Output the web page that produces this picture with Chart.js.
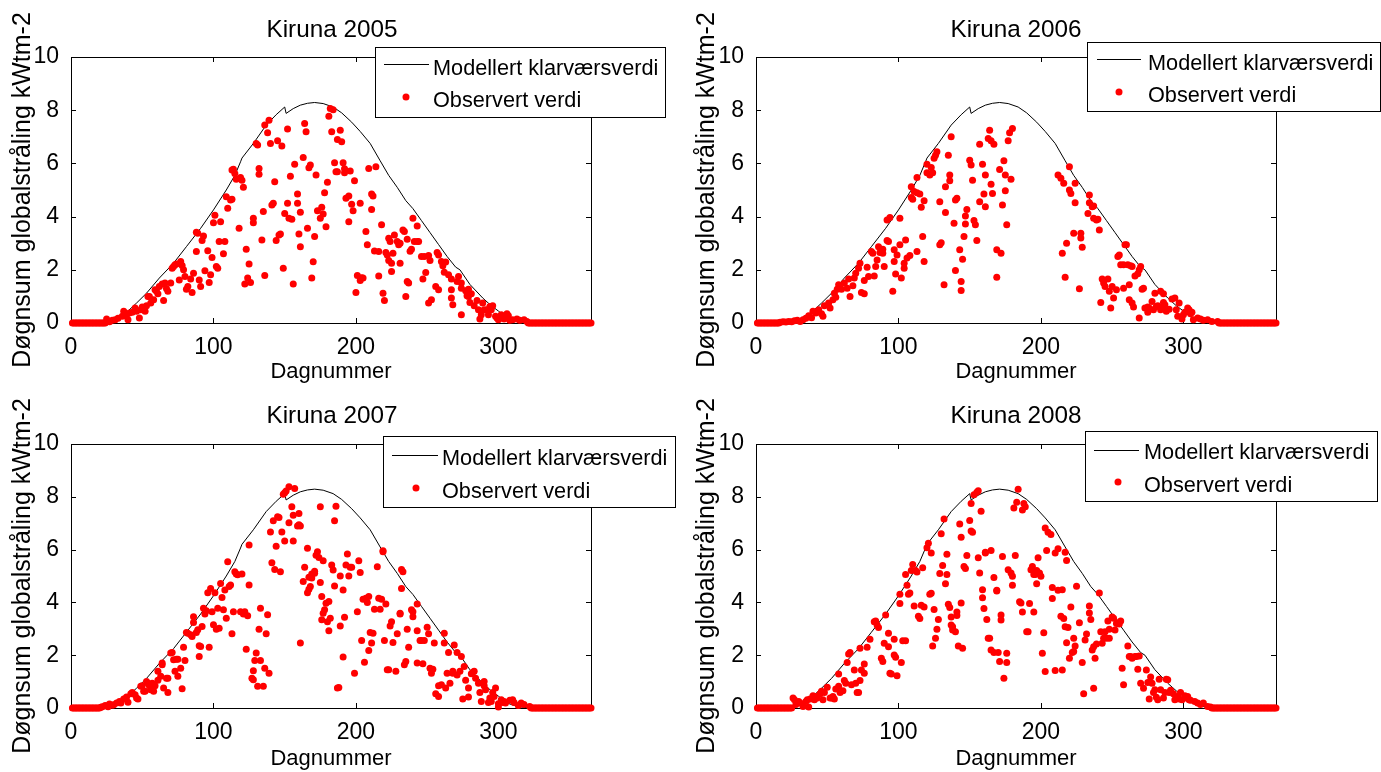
<!DOCTYPE html>
<html>
<head>
<meta charset="utf-8">
<title>Kiruna globalstråling</title>
<script src="https://cdn.jsdelivr.net/npm/chart.js"></script>
<style>
  body { margin:0; background:#fff; }
  canvas { position:absolute; }
</style>
</head>
<body>
<canvas id="p2005" width="690" height="386" style="left:0;top:0"></canvas>
<canvas id="p2006" width="691" height="386" style="left:690px;top:0"></canvas>
<canvas id="p2007" width="690" height="386" style="left:0;top:386px"></canvas>
<canvas id="p2008" width="691" height="386" style="left:690px;top:386px"></canvas>
<script>
// modelled clear-sky daily sum (same curve in every panel)
const modelDays = [0,10,18,24,30,35,40,46,53,62,72,81,91,100,109,115,119,120,128,137,144,150,151,156,161,166,171,177,184,190,197,203,210,217,223,229,235,240,246,252,258,264,270,273,280,289,295,300,306,313,320,328,365];
const modelVals = [0,0,0.01,0.04,0.14,0.27,0.45,0.75,1.12,1.69,2.25,2.87,3.56,4.25,5.0,5.55,6.06,6.2,6.75,7.44,7.83,8.12,7.88,8.06,8.19,8.26,8.29,8.25,8.12,7.9,7.55,7.2,6.75,6.1,5.55,5.1,4.6,4.3,3.85,3.4,2.95,2.5,2.1,2.0,1.45,0.94,0.65,0.45,0.19,0.06,0.01,0,0];

const xTicks = [0,100,200,300];
const yTicks = [0,2,4,6,8,10];
const legendLabels = ['Modellert klarværsverdi', 'Observert verdi'];

// days where the observed value sits on zero (polar night)
const zeros2005 = [1,2,3,4,5,6,7,8,9,10,11,12,13,14,15,16,17,18,19,20,21,22,23,24,321,322,323,324,325,326,327,328,329,330,331,332,333,334,335,336,337,338,339,340,341,342,343,344,345,346,347,348,349,350,351,352,353,354,355,356,357,358,359,360,361,362,363,364,365];
const zeros2006 = [1,2,3,4,5,6,7,8,9,10,11,12,13,14,15,16,325,326,327,328,329,330,331,332,333,334,335,336,337,338,339,340,341,342,343,344,345,346,347,348,349,350,351,352,353,354,355,356,357,358,359,360,361,362,363,364,365];
const zeros2007 = [1,2,3,4,5,6,7,8,9,10,11,12,13,14,15,16,17,18,19,20,323,324,325,326,327,328,329,330,331,332,333,334,335,336,337,338,339,340,341,342,343,344,345,346,347,348,349,350,351,352,353,354,355,356,357,358,359,360,361,362,363,364,365];
const zeros2008 = [1,2,3,4,5,6,7,8,9,10,11,12,13,14,15,16,17,18,19,20,21,22,23,24,25,320,321,322,323,324,325,326,327,328,329,330,331,332,333,334,335,336,337,338,339,340,341,342,343,344,345,346,347,348,349,350,351,352,353,354,355,356,357,358,359,360,361,362,363,364,365];

// observed daily sums [day, kWh m-2]
const obs2005 = [[25,0.15],[27,0.05],[29,0.1],[31,0.12],[33,0.18],[36,0.25],[37,0.44],[39,0.3],[40,0.12],[41,0.38],[43,0.4],[45,0.56],[46,0.44],[48,0.19],[49,0.5],[50,0.6],[52,0.44],[53,0.65],[54,1.0],[55,1.0],[56,0.75],[58,0.87],[59,1.25],[60,1.19],[61,1.1],[62,1.37],[64,1.47],[65,0.85],[66,1.5],[67,1.3],[68,1.19],[70,1.5],[71,2.06],[72,2.12],[73,2.19],[74,2.22],[76,1.62],[77,2.31],[78,2.16],[79,2.0],[80,1.75],[81,1.27],[82,1.37],[84,1.65],[85,1.15],[86,1.87],[88,2.69],[88,3.41],[89,3.37],[90,1.62],[91,1.37],[92,3.1],[93,3.27],[94,1.96],[96,2.72],[97,1.52],[98,1.81],[99,2.46],[100,3.77],[101,4.05],[102,2.12],[103,2.06],[104,3.06],[105,3.81],[107,2.6],[108,3.06],[109,4.75],[110,4.31],[112,4.62],[113,4.65],[113,5.75],[114,5.78],[115,5.62],[116,5.4],[118,3.56],[119,5.47],[120,5.37],[121,5.1],[122,1.47],[123,2.77],[124,1.69],[125,2.22],[126,1.52],[128,3.94],[128,3.77],[130,6.75],[131,6.69],[132,5.59],[132,5.81],[134,3.12],[135,4.19],[136,1.79],[136,7.44],[138,7.15],[139,7.62],[140,6.75],[141,4.44],[142,4.5],[143,5.31],[144,3.1],[145,6.85],[146,3.31],[147,3.35],[148,6.65],[149,2.06],[150,4.12],[152,7.29],[152,4.5],[153,3.94],[154,5.52],[155,3.9],[156,1.47],[157,5.97],[159,4.5],[159,4.85],[160,3.35],[161,4.16],[161,2.87],[163,6.22],[164,7.5],[165,7.19],[166,3.56],[167,5.84],[168,5.94],[169,1.69],[170,2.3],[171,3.25],[172,5.56],[173,4.22],[175,3.94],[176,4.35],[177,4.1],[178,4.9],[179,3.62],[180,5.29],[181,7.77],[182,8.06],[184,8.02],[183,7.19],[185,6.02],[186,5.69],[187,6.9],[187,5.69],[189,7.25],[190,6.81],[191,6.02],[192,5.65],[192,5.8],[193,4.69],[195,4.77],[195,3.81],[196,5.71],[197,4.46],[198,4.22],[199,5.35],[200,1.15],[201,1.79],[203,4.5],[203,1.6],[204,1.7],[205,1.69],[207,3.44],[208,2.94],[209,5.81],[211,4.85],[211,4.27],[212,4.77],[213,2.71],[214,5.87],[216,1.77],[216,2.69],[218,3.69],[219,1.12],[220,0.85],[221,2.65],[222,2.56],[223,3.19],[223,2.35],[224,3.06],[225,1.94],[225,2.25],[226,2.62],[227,3.31],[229,3.06],[230,2.94],[231,3.0],[231,2.25],[233,3.5],[234,3.44],[235,1.0],[236,3.15],[236,1.56],[237,1.5],[238,2.7],[239,2.77],[240,3.94],[241,3.06],[243,3.65],[243,3.06],[244,3.06],[246,2.5],[247,1.65],[248,2.5],[249,1.9],[251,2.54],[251,0.75],[252,2.35],[253,0.87],[256,1.37],[257,2.65],[258,2.56],[258,1.25],[260,2.31],[261,2.15],[262,1.91],[263,2.29],[265,1.81],[267,1.65],[267,1.25],[267,0.94],[268,0.69],[271,1.56],[272,1.75],[274,1.31],[274,1.5],[274,0.31],[277,1.21],[278,1.02],[279,1.0],[279,1.27],[280,0.77],[281,1.1],[283,0.65],[285,0.85],[286,0.5],[287,0.15],[288,0.31],[289,0.75],[290,0.5],[292,0.5],[293,0.31],[294,0.62],[295,0.5],[296,0.65],[298,0.25],[299,0.19],[300,0.12],[301,0.19],[302,0.31],[304,0.15],[305,0.25],[306,0.35],[307,0.27],[308,0.1],[310,0.12],[313,0.15],[315,0.1],[318,0.12],[320,0.06]];

const obs2006 = [[17,0.03],[19,0.05],[21,0.04],[23,0.06],[25,0.05],[27,0.08],[29,0.1],[31,0.06],[33,0.12],[35,0.18],[37,0.27],[39,0.2],[40,0.44],[42,0.38],[44,0.5],[46,0.35],[47,0.25],[48,0.65],[51,0.75],[52,0.56],[54,0.87],[55,1.12],[56,0.97],[57,1.27],[58,1.44],[60,1.27],[62,1.5],[64,1.31],[65,1.65],[66,1.0],[68,1.4],[69,1.69],[70,1.87],[72,2.06],[73,2.25],[74,1.15],[76,1.1],[76,1.6],[78,2.1],[79,1.75],[81,2.69],[82,2.62],[83,1.77],[84,2.12],[85,2.37],[86,2.87],[87,2.65],[89,2.77],[89,2.62],[90,2.12],[92,3.1],[93,3.06],[92,3.87],[94,3.97],[96,1.19],[97,2.31],[97,2.75],[98,1.84],[99,2.56],[101,3.94],[101,2.94],[102,1.69],[104,2.06],[104,2.25],[105,3.12],[106,2.44],[108,2.54],[109,4.72],[109,5.12],[110,4.65],[111,4.94],[113,2.69],[113,4.9],[113,5.47],[115,4.85],[116,4.35],[117,3.25],[118,2.31],[118,4.6],[120,5.97],[120,5.65],[122,5.56],[123,5.85],[124,5.65],[125,6.19],[126,6.31],[127,6.44],[129,4.56],[129,2.94],[130,3.02],[132,1.44],[133,5.12],[133,4.15],[135,6.31],[136,5.56],[136,5.35],[137,7.0],[139,3.75],[140,1.97],[140,4.62],[141,4.69],[143,2.75],[144,1.56],[144,1.22],[145,2.4],[146,3.25],[147,3.72],[147,4.02],[148,4.27],[150,6.12],[151,5.94],[152,5.37],[153,3.85],[154,3.69],[155,3.1],[157,6.72],[157,4.56],[159,5.97],[160,4.85],[161,5.56],[161,4.37],[163,6.94],[164,7.25],[165,6.85],[165,5.22],[166,4.87],[167,6.72],[169,1.72],[169,2.75],[171,5.77],[172,2.62],[173,4.44],[174,6.1],[175,5.56],[175,4.97],[176,3.69],[177,6.85],[178,7.15],[179,5.4],[180,7.31],[212,5.56],[214,5.44],[215,2.62],[216,5.25],[217,1.72],[218,3.0],[220,5.0],[220,5.87],[221,4.87],[223,3.37],[224,4.52],[224,5.25],[227,1.29],[228,3.37],[228,3.2],[229,2.85],[233,4.12],[234,4.81],[234,4.52],[236,4.37],[237,4.4],[237,3.94],[239,3.87],[240,3.9],[241,3.5],[242,0.77],[243,1.65],[244,1.5],[245,1.37],[247,1.65],[248,1.19],[249,0.56],[250,1.37],[251,0.94],[253,1.25],[254,2.5],[255,2.56],[256,2.19],[258,2.19],[258,1.31],[259,2.94],[260,2.94],[261,2.19],[262,0.87],[262,1.44],[263,2.15],[264,2.12],[264,0.75],[265,0.6],[266,1.77],[268,1.85],[269,0.19],[269,2.0],[270,2.12],[271,1.27],[272,1.31],[273,0.56],[275,0.6],[275,0.4],[276,0.56],[278,0.81],[279,0.5],[280,1.12],[281,0.62],[282,0.65],[284,0.5],[284,1.19],[285,0.56],[286,1.1],[286,0.77],[287,0.69],[288,0.44],[290,0.52],[292,0.9],[294,0.94],[295,0.5],[296,0.25],[297,0.75],[299,0.15],[300,0.31],[301,0.4],[303,0.56],[304,0.5],[305,0.35],[306,0.4],[307,0.12],[310,0.19],[312,0.15],[314,0.1],[317,0.12],[320,0.06],[324,0.06]];

const obs2007 = [[21,0.03],[22,0.05],[24,0.09],[26,0.05],[27,0.15],[29,0.1],[30,0.12],[32,0.19],[34,0.25],[35,0.19],[37,0.34],[39,0.42],[40,0.22],[42,0.54],[43,0.59],[45,0.5],[46,0.38],[47,0.34],[49,0.82],[50,0.84],[51,0.63],[52,0.63],[53,1.0],[54,0.94],[55,0.84],[56,0.69],[57,0.94],[58,0.63],[59,0.84],[61,1.39],[61,1.05],[63,1.2],[64,1.64],[64,1.7],[65,0.76],[67,1.13],[68,0.59],[68,1.13],[70,2.08],[71,2.1],[72,1.83],[73,1.39],[74,1.85],[75,1.85],[75,1.2],[77,1.51],[78,0.73],[79,2.3],[80,1.8],[81,2.86],[82,2.83],[84,2.77],[85,2.71],[86,3.46],[86,3.24],[88,2.86],[89,2.96],[90,1.95],[90,2.36],[91,2.33],[92,3.09],[93,3.78],[94,3.56],[95,3.68],[96,4.37],[97,2.3],[98,4.53],[99,3.65],[100,3.15],[101,4.37],[102,2.98],[103,3.78],[104,3.02],[105,4.72],[106,4.19],[107,3.72],[108,4.47],[109,3.4],[110,5.54],[111,4.6],[112,4.66],[113,2.81],[114,3.65],[115,5.16],[116,5.08],[117,5.05],[119,3.65],[120,5.08],[121,3.56],[122,3.65],[123,2.23],[124,3.49],[125,4.66],[125,6.17],[127,1.13],[128,1.41],[128,1.07],[129,1.8],[130,2.08],[131,0.82],[132,2.98],[133,3.78],[133,1.8],[135,0.82],[136,1.51],[137,2.81],[138,3.53],[139,1.32],[140,6.67],[141,5.5],[142,7.09],[143,5.25],[144,6.13],[145,7.24],[146,7.22],[147,5.16],[148,6.67],[149,8.1],[150,6.33],[150,8.15],[151,8.22],[153,8.38],[153,7.02],[155,7.62],[156,7.3],[156,6.33],[157,8.31],[159,6.89],[160,7.37],[160,6.94],[161,6.89],[161,2.46],[163,4.79],[164,5.33],[166,6.05],[166,4.37],[167,4.95],[167,4.5],[168,4.6],[169,4.92],[169,5.08],[171,5.1],[171,5.18],[172,5.79],[173,5.92],[174,5.7],[175,7.62],[175,4.75],[176,3.34],[176,4.22],[177,5.58],[177,3.59],[178,3.72],[179,3.97],[180,3.27],[181,4.03],[181,2.93],[182,3.4],[183,5.42],[184,5.23],[185,4.62],[185,7.09],[186,7.64],[187,0.76],[188,0.78],[189,3.11],[189,5.0],[191,4.47],[191,1.93],[192,3.44],[193,5.42],[194,5.83],[195,5.0],[196,5.33],[197,5.33],[199,1.32],[201,3.65],[202,5.58],[203,5.13],[204,2.56],[205,4.12],[206,1.73],[207,4.16],[208,4.0],[209,4.22],[209,2.18],[210,2.86],[211,2.46],[212,2.83],[213,3.74],[215,5.35],[216,4.16],[217,3.74],[218,4.12],[219,5.96],[219,5.92],[220,2.56],[221,3.94],[222,1.45],[223,1.45],[224,3.11],[225,3.27],[226,2.48],[228,1.39],[229,2.81],[231,3.59],[231,3.56],[232,5.25],[232,4.53],[233,5.16],[234,1.64],[235,1.76],[236,2.98],[237,2.3],[239,3.72],[240,3.65],[240,3.46],[243,2.93],[243,3.94],[243,1.7],[245,2.56],[246,2.56],[247,1.68],[248,2.56],[250,3.06],[251,2.81],[252,1.51],[253,1.32],[254,1.47],[255,2.46],[256,0.54],[258,0.44],[258,0.84],[260,0.88],[262,2.83],[262,2.46],[263,0.76],[264,1.32],[265,2.1],[266,0.94],[268,1.32],[268,1.39],[269,2.39],[271,2.1],[271,1.25],[273,1.39],[274,1.95],[275,0.34],[276,1.57],[277,1.05],[279,0.76],[279,0.42],[281,1.3],[282,1.35],[283,1.39],[284,1.13],[286,0.94],[287,0.59],[288,0.25],[290,0.84],[290,1.0],[291,0.69],[293,0.21],[294,0.38],[295,0.25],[296,0.59],[297,0.44],[298,0.76],[300,0.04],[300,0.16],[302,0.31],[303,0.21],[304,0.25],[305,0.19],[308,0.29],[310,0.31],[311,0.21],[314,0.09],[316,0.19],[318,0.13],[322,0.06]];

const obs2008 = [[26,0.38],[27,0.31],[28,0.13],[30,0.25],[31,0.19],[33,0.06],[35,0.25],[36,0.31],[37,0.04],[38,0.34],[40,0.46],[41,0.31],[42,0.44],[43,0.38],[45,0.54],[46,0.63],[47,0.31],[48,0.59],[50,0.79],[52,0.38],[53,0.38],[54,0.44],[55,0.34],[56,0.72],[58,1.29],[58,0.82],[59,0.59],[61,0.65],[62,1.04],[63,0.94],[64,1.72],[65,2.05],[66,2.1],[67,0.88],[69,1.44],[70,0.94],[71,0.59],[72,0.59],[73,1.04],[73,2.26],[74,1.44],[76,1.32],[76,1.67],[78,2.3],[80,2.6],[83,3.27],[84,3.3],[85,3.14],[86,3.05],[88,1.88],[89,1.76],[90,2.45],[91,3.52],[93,2.83],[93,2.32],[94,1.32],[95,1.29],[97,2.6],[97,2.01],[98,1.92],[99,1.22],[101,3.96],[101,4.31],[102,1.72],[103,2.55],[105,2.55],[105,5.06],[106,4.65],[107,4.31],[108,4.36],[109,5.21],[110,5.44],[111,3.86],[112,5.21],[113,5.15],[114,3.48],[115,3.39],[116,3.89],[117,5.31],[118,3.83],[120,6.07],[121,6.24],[122,4.31],[123,4.35],[123,5.87],[124,2.35],[125,3.73],[126,2.64],[127,2.98],[128,3.35],[129,5.09],[130,6.6],[131,5.4],[132,7.16],[133,4.71],[134,5.06],[134,5.82],[135,3.93],[136,3.81],[137,3.45],[137,3.14],[138,3.08],[138,2.95],[140,2.89],[141,3.64],[141,3.5],[142,2.35],[143,6.97],[144,6.47],[144,3.98],[145,2.26],[146,5.36],[147,5.28],[148,5.78],[150,7.1],[151,6.7],[151,7.75],[152,6.66],[153,8.08],[155,8.17],[156,8.23],[156,5.69],[157,5.11],[158,7.45],[159,4.18],[159,4.48],[160,3.77],[161,5.9],[161,5.87],[162,3.35],[163,2.64],[164,2.64],[165,2.2],[165,5.97],[167,2.1],[167,4.94],[169,4.43],[169,4.46],[170,2.1],[171,1.76],[172,3.33],[172,3.52],[173,5.74],[174,1.13],[176,2.07],[176,1.72],[177,5.24],[179,5.11],[180,4.99],[180,4.65],[181,7.58],[182,5.78],[183,7.79],[184,8.29],[185,4.02],[186,3.98],[187,7.5],[188,7.75],[189,7.62],[187,3.64],[190,2.89],[191,2.89],[192,3.96],[193,5.24],[194,5.36],[195,3.64],[195,5.06],[196,5.06],[197,4.71],[197,5.21],[198,5.69],[199,5.11],[200,4.99],[201,2.07],[202,2.85],[203,1.38],[203,6.82],[204,5.97],[205,6.66],[207,6.57],[208,4.15],[208,4.56],[210,5.87],[210,1.42],[212,4.46],[212,6.03],[214,3.48],[215,1.44],[215,4.48],[216,3.39],[217,3.08],[217,5.9],[218,2.47],[218,5.59],[219,3.05],[220,1.88],[221,3.83],[222,2.1],[223,2.14],[223,2.64],[224,2.35],[225,4.61],[227,3.23],[229,1.72],[230,0.54],[231,2.58],[232,2.8],[234,3.86],[234,3.6],[235,3.35],[236,2.2],[237,2.32],[237,0.75],[238,1.88],[239,2.42],[241,4.36],[242,2.89],[243,2.45],[244,2.64],[245,2.89],[246,2.64],[247,3.3],[248,2.98],[248,2.64],[250,3.45],[251,3.4],[252,2.95],[253,3.2],[254,3.23],[255,3.18],[256,3.3],[257,1.51],[258,0.88],[261,2.35],[262,1.95],[263,1.95],[264,1.88],[266,1.95],[267,1.95],[268,1.47],[269,1.97],[270,0.94],[272,0.75],[274,1.44],[275,0.97],[276,0.34],[277,1.17],[278,0.94],[279,0.59],[280,0.69],[281,0.41],[282,0.31],[283,1.09],[284,0.69],[286,0.38],[287,0.59],[288,1.09],[289,1.07],[290,0.59],[291,0.67],[293,0.54],[294,0.31],[296,0.44],[297,0.34],[298,0.59],[299,0.31],[301,0.46],[302,0.38],[303,0.44],[304,0.31],[305,0.29],[308,0.25],[310,0.19],[312,0.13],[314,0.19],[317,0.06],[319,0.04]];

const FONT = "'Liberation Sans', Arial, Helvetica, sans-serif";
Chart.defaults.font.family = FONT;
Chart.defaults.color = '#000';

// box, inside tick marks, title and legend drawn the MATLAB way
const matlabAxes = {
  id: 'matlabAxes',
  beforeDatasetsDraw(chart) {
    const { ctx, chartArea: a, scales: { x, y } } = chart;
    ctx.save();
    ctx.strokeStyle = '#000';
    ctx.lineWidth = 1;
    ctx.strokeRect(a.left + 0.5, a.top + 0.5, a.right - a.left, a.bottom - a.top);
    ctx.beginPath();
    xTicks.forEach(v => {
      const px = Math.round(x.getPixelForValue(v)) + 0.5;
      ctx.moveTo(px, a.bottom); ctx.lineTo(px, a.bottom - 5);
      ctx.moveTo(px, a.top); ctx.lineTo(px, a.top + 5);
    });
    yTicks.forEach(v => {
      const py = Math.round(y.getPixelForValue(v)) + 0.5;
      ctx.moveTo(a.left, py); ctx.lineTo(a.left + 5, py);
      ctx.moveTo(a.right, py); ctx.lineTo(a.right - 5, py);
    });
    ctx.stroke();
    ctx.restore();
  },
  afterDraw(chart, args, o) {
    const ctx = chart.ctx;
    const L = o.legend;
    ctx.save();
    ctx.fillStyle = '#000';
    ctx.textAlign = 'center';
    ctx.textBaseline = 'alphabetic';
    ctx.font = '24.3px ' + FONT;
    ctx.fillText(o.title, o.titleX, o.titleY);

    ctx.fillStyle = '#fff';
    ctx.fillRect(L.x, L.y, L.w, L.h);
    ctx.strokeStyle = '#000';
    ctx.lineWidth = 1;
    ctx.strokeRect(L.x + 0.5, L.y + 0.5, L.w, L.h);
    ctx.beginPath();
    ctx.moveTo(L.lx1, L.ly + 0.5); ctx.lineTo(L.lx2, L.ly + 0.5);
    ctx.stroke();
    ctx.fillStyle = '#ff0000';
    ctx.beginPath();
    ctx.arc(L.dx, L.dy, 3.5, 0, Math.PI * 2);
    ctx.fill();
    ctx.fillStyle = '#000';
    ctx.textAlign = 'left';
    ctx.font = '21.7px ' + FONT;
    ctx.fillText(legendLabels[0], L.tx, L.b1);
    ctx.fillText(legendLabels[1], L.tx, L.b2);
    ctx.restore();
  }
};

const panels = [
  { id: 'p2005', title: 'Kiruna 2005', obs: obs2005, zeros: zeros2005,
    top: 57, xh: 63, yw: 71, right: 99, ypad: 8, xpad: 1, titleX: 332, titleY: 37,
    legend: { x: 375, y: 47, w: 290, h: 70, lx1: 384, lx2: 429, ly: 64, dx: 406, dy: 97, tx: 433, b1: 75, b2: 107 } },
  { id: 'p2006', title: 'Kiruna 2006', obs: obs2006, zeros: zeros2006,
    top: 57, xh: 63, yw: 66, right: 105, ypad: 2, xpad: 1, titleX: 326, titleY: 37,
    legend: { x: 397, y: 42, w: 293, h: 69, lx1: 407, lx2: 451, ly: 59, dx: 429, dy: 92, tx: 458, b1: 70, b2: 102 } },
  { id: 'p2007', title: 'Kiruna 2007', obs: obs2007, zeros: zeros2007,
    top: 58, xh: 64, yw: 71, right: 99, ypad: 8, xpad: 0, titleX: 332, titleY: 37,
    legend: { x: 383, y: 50, w: 292, h: 71, lx1: 392, lx2: 438, ly: 69, dx: 416, dy: 102, tx: 442, b1: 79, b2: 112 } },
  { id: 'p2008', title: 'Kiruna 2008', obs: obs2008, zeros: zeros2008,
    top: 58, xh: 64, yw: 66, right: 105, ypad: 2, xpad: 0, titleX: 326, titleY: 37,
    legend: { x: 395, y: 45, w: 292, h: 70, lx1: 404, lx2: 449, ly: 64, dx: 428, dy: 96, tx: 454, b1: 73, b2: 106 } }
];

panels.forEach(p => {
  const model = modelDays.map((d, i) => ({ x: d, y: modelVals[i] }));
  const points = p.zeros.map(d => ({ x: d, y: 0 })).concat(p.obs.map(o => ({ x: o[0], y: o[1] })));
  new Chart(document.getElementById(p.id), {
    type: 'scatter',
    data: {
      datasets: [
        { label: legendLabels[1], data: points, backgroundColor: '#ff0000', borderWidth: 0,
          pointRadius: 3.5, pointHoverRadius: 3.5, clip: false, order: 1 },
        { type: 'line', label: legendLabels[0], data: model, borderColor: '#000', borderWidth: 1,
          pointRadius: 0, fill: false, tension: 0, order: 2 }
      ]
    },
    options: {
      responsive: false,
      animation: false,
      events: [],
      layout: { padding: { top: p.top, right: p.right, left: 0, bottom: 0 } },
      plugins: {
        legend: { display: false },
        tooltip: { enabled: false },
        matlabAxes: { title: p.title, titleX: p.titleX, titleY: p.titleY, legend: p.legend }
      },
      scales: {
        x: {
          type: 'linear', min: 0, max: 365,
          afterFit: s => { s.height = p.xh; },
          afterBuildTicks: s => { s.ticks = xTicks.map(v => ({ value: v })); },
          grid: { display: false }, border: { display: false },
          ticks: { font: { size: 23 }, padding: 3, maxRotation: 0, autoSkip: false },
          title: { display: true, text: 'Dagnummer', font: { size: 22 }, padding: { top: 0, bottom: p.xpad } }
        },
        y: {
          min: 0, max: 10,
          afterFit: s => { s.width = p.yw; },
          afterBuildTicks: s => { s.ticks = yTicks.map(v => ({ value: v })); },
          grid: { display: false }, border: { display: false },
          ticks: { font: { size: 23 }, padding: 4 },
          title: { display: true, text: 'Døgnsum globalstråling kWtm-2', font: { size: 25 }, padding: { top: p.ypad, bottom: 0 } }
        }
      }
    },
    plugins: [matlabAxes]
  });
});
</script>
</body>
</html>
